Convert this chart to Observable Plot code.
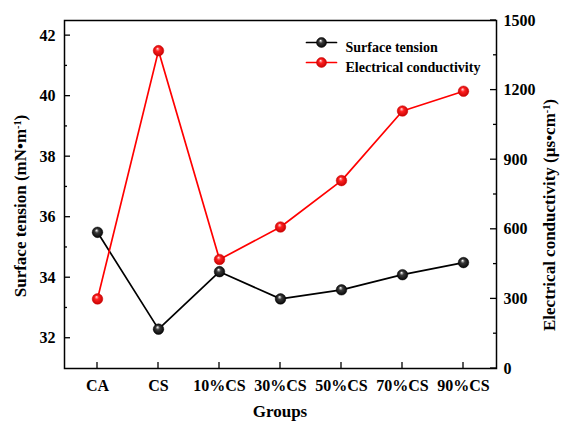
<!DOCTYPE html>
<html>
<head>
<meta charset="utf-8">
<script src="https://cdn.jsdelivr.net/npm/d3@7"></script>
<script src="https://cdn.jsdelivr.net/npm/@observablehq/plot@0.6"></script>
<style>
  html, body { margin: 0; padding: 0; background: #fff; }
  #chart { position: relative; width: 562px; height: 422px; }
</style>
</head>
<body>
<div id="chart"></div>
<script>
// Sample groups and the two measured series
const groups = ["CA", "CS", "10%CS", "30%CS", "50%CS", "70%CS", "90%CS"];
const surfaceTension = [35.5, 32.3, 34.2, 33.3, 33.6, 34.1, 34.5];      // mN·m⁻¹
const conductivity = [300, 1370, 470, 610, 810, 1110, 1195];            // µs·cm⁻¹

// Axis ticks
const tensionTicks = [32, 34, 36, 38, 40, 42];
const tensionMinorTicks = [33, 35, 37, 39, 41];
const conductivityTicks = [0, 300, 600, 900, 1200, 1500];
const conductivityMinorTicks = [150, 450, 750, 1050, 1350];

// Left (surface tension) and right (conductivity) axis ranges
const tensionDomain = [31, 42.5];
const conductivityDomain = [0, 1500];

// Map a conductivity value onto the shared y scale, and back
const toLeft = v => tensionDomain[0] + (v - conductivityDomain[0]) /
  (conductivityDomain[1] - conductivityDomain[0]) * (tensionDomain[1] - tensionDomain[0]);
const fromLeft = y => conductivityDomain[0] + (y - tensionDomain[0]) /
  (tensionDomain[1] - tensionDomain[0]) * (conductivityDomain[1] - conductivityDomain[0]);

const tensionData = groups.map((g, i) => ({group: g, value: surfaceTension[i]}));
const conductivityData = groups.map((g, i) => ({group: g, value: toLeft(conductivity[i])}));

const font = "'Liberation Serif', 'Times New Roman', serif";

// Layout
const W = 562, H = 422;
const margin = {left: 64, right: 66, top: 20, bottom: 54};

// Shaded "ball" gradients for the markers
function ballDefs() {
  const defs = d3.create("svg:defs");
  const make = (id, light, mid, dark) => {
    const g = defs.append("radialGradient").attr("id", id)
      .attr("cx", "50%").attr("cy", "50%").attr("r", "55%")
      .attr("fx", "40%").attr("fy", "30%");
    g.append("stop").attr("offset", "0%").attr("stop-color", light);
    g.append("stop").attr("offset", "35%").attr("stop-color", mid);
    g.append("stop").attr("offset", "100%").attr("stop-color", dark);
  };
  make("ballBlack", "#ffffff", "#3a3a3a", "#000000");
  make("ballRed", "#ffe0e0", "#ff2020", "#c00000");
  return defs.node();
}

const segment = {draw(c, l) { c.moveTo(-l / 2, 0); c.lineTo(l / 2, 0); }};

// Legend rows, placed relative to the top-left of the frame
const legendItems = [
  {label: "Surface tension", stroke: "black", fill: "url(#ballBlack)", dy: 22},
  {label: "Electrical conductivity", stroke: "#ff0000", fill: "url(#ballRed)", dy: 42}
];

const plot = Plot.plot({
  width: W,
  height: H,
  marginLeft: margin.left,
  marginRight: margin.right,
  marginTop: margin.top,
  marginBottom: margin.bottom,
  style: {fontFamily: font, fontWeight: "bold", fontSize: "16px", color: "black", background: "white"},
  x: {type: "point", domain: groups, padding: 0.5},
  y: {domain: tensionDomain},
  marks: [
    ballDefs,
    // axis labels
    Plot.axisX({tickSize: 0, tickPadding: 11, label: null, fontSize: 16}),
    Plot.axisY({anchor: "left", ticks: tensionTicks, tickSize: 0, tickPadding: 9, label: null, fontSize: 16}),
    Plot.axisY({anchor: "right", ticks: conductivityTicks.map(toLeft), tickFormat: d => String(Math.round(fromLeft(d))),
      tickSize: 0, tickPadding: 7, label: null, fontSize: 16}),
    Plot.frame({stroke: "black", strokeWidth: 1.5}),
    // series
    Plot.line(tensionData, {x: "group", y: "value", stroke: "black", strokeWidth: 1.7}),
    Plot.line(conductivityData, {x: "group", y: "value", stroke: "#ff0000", strokeWidth: 1.7}),
    Plot.dot(tensionData, {x: "group", y: "value", r: 5.3, fill: "url(#ballBlack)", stroke: "#000", strokeWidth: 0.5}),
    Plot.dot(conductivityData, {x: "group", y: "value", r: 5.3, fill: "url(#ballRed)", stroke: "#d00000", strokeWidth: 0.5}),
    // legend
    ...legendItems.flatMap(item => [
      Plot.vector([item], {frameAnchor: "top-left", dx: 257, dy: item.dy, length: 30, anchor: "start",
        shape: segment, stroke: item.stroke, strokeWidth: 1.7}),
      Plot.dot([item], {frameAnchor: "top-left", dx: 257, dy: item.dy, r: 5, fill: item.fill,
        stroke: item.stroke === "black" ? "#000" : "#d00000", strokeWidth: 0.5}),
      Plot.text([item], {frameAnchor: "top-left", dx: 281, dy: item.dy, text: "label",
        textAnchor: "start", fontSize: 14, fill: "black"})
    ])
  ]
});

const svg = d3.select(plot);
const xScale = plot.scale("x");
const yScale = plot.scale("y");
const left = margin.left, right = W - margin.right, bottom = H - margin.bottom;

// Inward tick marks along the frame edges, positioned with the plot's scales
const ticks = svg.append("g").attr("stroke", "black").attr("stroke-width", 1.3);
const addTicks = (values, pos, seg) =>
  values.forEach(v => { const p = pos(v); ticks.append("line").attr("x1", seg(p)[0]).attr("y1", seg(p)[1])
    .attr("x2", seg(p)[2]).attr("y2", seg(p)[3]); });
addTicks(groups, v => xScale.apply(v), p => [p, bottom, p, bottom - 6]);
addTicks(tensionTicks, v => yScale.apply(v), p => [left, p, left + 6, p]);
addTicks(tensionMinorTicks, v => yScale.apply(v), p => [left, p, left + 3, p]);
addTicks(conductivityTicks, v => yScale.apply(toLeft(v)), p => [right, p, right - 6, p]);
addTicks(conductivityMinorTicks, v => yScale.apply(toLeft(v)), p => [right, p, right - 3, p]);

// Axis titles with superscripts
const title = (x, y, rotate, parts, size) => {
  const t = svg.append("text")
    .attr("transform", `translate(${x},${y}) rotate(${rotate})`)
    .attr("text-anchor", "middle").attr("dy", "0.35em")
    .attr("font-family", font).attr("font-weight", "bold").attr("font-size", size)
    .attr("fill", "black");
  parts.forEach(p => {
    const s = t.append("tspan").text(p.text);
    if (p.sup) s.attr("baseline-shift", "super").attr("font-size", size * 0.6);
  });
};
title(20, 206, -90, [{text: "Surface tension (mN•m"}, {text: "-1", sup: true}, {text: ")"}], 17);
title(549, 215, -90, [{text: "Electrical conductivity (µs•cm"}, {text: "-1", sup: true}, {text: ")"}], 17);
title(280, 411, 0, [{text: "Groups"}], 17);

document.getElementById("chart").append(plot);
</script>
</body>
</html>
